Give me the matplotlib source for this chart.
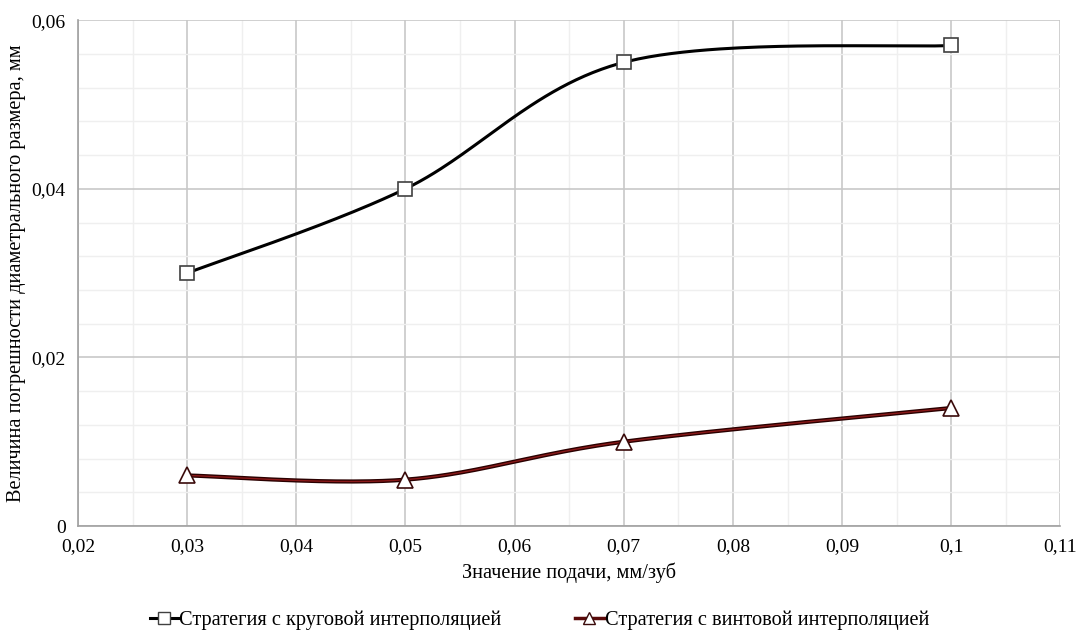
import numpy as np
import matplotlib
matplotlib.use('Agg')
import matplotlib.pyplot as plt
from matplotlib.ticker import MultipleLocator, FuncFormatter

plt.rcParams['font.family'] = ['Liberation Serif', 'DejaVu Serif']

# данные
feed = [0.03, 0.05, 0.07, 0.1]
circular = [0.030, 0.040, 0.055, 0.057]
helical = [0.006, 0.0055, 0.010, 0.014]

label_circ = 'Стратегия с круговой интерполяцией'
label_hel = 'Стратегия с винтовой интерполяцией'


def smooth(xs, ys, n=60):
    # сглаживание как в Excel (кривые Безье по Catmull-Rom)
    p = np.column_stack([xs, ys]).astype(float)
    p = np.vstack([p[0], p, p[-1]])
    out = []
    t = np.linspace(0, 1, n)[:, None]
    for i in range(1, len(p) - 2):
        p0, p1, p2, p3 = p[i - 1], p[i], p[i + 1], p[i + 2]
        c1 = p1 + (p2 - p0) / 6
        c2 = p2 - (p3 - p1) / 6
        seg = ((1 - t) ** 3) * p1 + 3 * ((1 - t) ** 2) * t * c1 + 3 * (1 - t) * t ** 2 * c2 + t ** 3 * p2
        out.append(seg)
    out = np.vstack(out)
    return out[:, 0], out[:, 1]


fig = plt.figure(figsize=(10.79, 6.30), dpi=100)
ax = fig.add_axes([0.0723, 0.165, 0.9105, 0.803])

fmt = lambda v, pos: ('0' if abs(v) < 1e-9 else ('%g' % round(v, 3)).replace('.', ','))

sx, sy = smooth(feed, circular)
ax.plot(sx, sy, color='black', lw=2.2, zorder=3)
ax.plot(feed, circular, ls='none', marker='s', ms=10, mfc='white', mec='#404040', mew=1.2, zorder=4)

hx, hy = smooth(feed, helical)
ax.plot(hx, hy, color='#2a0000', lw=3.0, zorder=3)
ax.plot(hx, hy, color='#8b1a1a', lw=1.0, zorder=3)
ax.plot(feed, helical, ls='none', marker='^', ms=11, mfc='white', mec='#3a0a0a', mew=1.2, zorder=4)

# легенда
ax.plot([], [], color='black', lw=2.2, marker='s', ms=8, mfc='white', mec='#404040', label=label_circ)
ax.plot([], [], color='#5a0a0a', lw=2.5, marker='^', ms=9, mfc='white', mec='#3a0a0a', label=label_hel)

ax.set_xlim(0.02, 0.11)
ax.set_ylim(0, 0.06)
ax.xaxis.set_major_locator(MultipleLocator(0.01))
ax.xaxis.set_minor_locator(MultipleLocator(0.005))
ax.yaxis.set_major_locator(MultipleLocator(0.02))
ax.yaxis.set_minor_locator(MultipleLocator(0.004))
ax.xaxis.set_major_formatter(FuncFormatter(fmt))
ax.yaxis.set_major_formatter(FuncFormatter(fmt))

ax.grid(which='major', color='#c8c8c8', lw=1.2)
ax.grid(which='minor', color='#efefef', lw=1.0)
ax.set_axisbelow(True)
ax.tick_params(which='both', length=0, labelsize=14, pad=9)
for s in ['top', 'right']:
    ax.spines[s].set_visible(False)
for s in ['left', 'bottom']:
    ax.spines[s].set_color('#a0a0a0')
    ax.spines[s].set_linewidth(1.2)

ax.set_xlabel('Значение подачи, мм/зуб', fontsize=14.7, labelpad=5)
ax.set_ylabel('Величина погрешности диаметрального размера, мм', fontsize=14.7, labelpad=4)

fig.legend(loc='lower center', bbox_to_anchor=(0.5, -0.003), ncol=2, frameon=False,
           fontsize=14.7, handlelength=1.4, handletextpad=0.05, columnspacing=3.6,
           borderaxespad=0, borderpad=0.1)

fig.savefig('out.png', dpi=100)
